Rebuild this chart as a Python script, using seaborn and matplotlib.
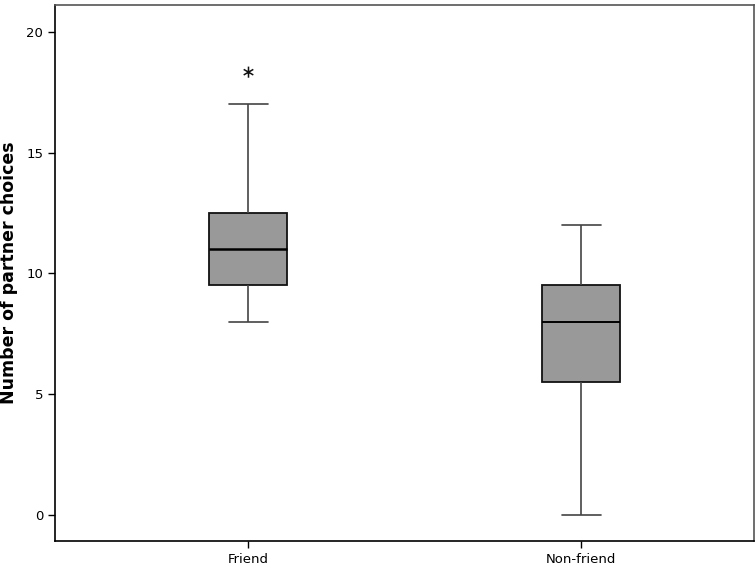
import pandas as pd
import matplotlib
matplotlib.use("Agg")
import matplotlib.pyplot as plt
from matplotlib.path import Path
import seaborn as sns

# raw counts chosen so the quartiles match the reference boxes
groups = ["Friend", "Non-friend"]
friend_choices = [8, 9, 9, 10, 10, 11, 12, 12, 13, 17, 18]
nonfriend_choices = [0, 4, 5, 6, 7, 8, 9, 9, 10, 11, 12]
y_ticks = [0, 5, 10, 15, 20]

Data = pd.DataFrame({
    "group": [groups[0]] * len(friend_choices) + [groups[1]] * len(nonfriend_choices),
    "choices": friend_choices + nonfriend_choices,
})

# SPSS style asterisk, sitting a little above the value
c = 1.5
star = Path([(0, c - 1), (0, c + 1),
             (-0.866, c - 0.5), (0.866, c + 0.5),
             (-0.866, c + 0.5), (0.866, c - 0.5)],
            [Path.MOVETO, Path.LINETO] * 3)

sns.set_style("white")
plt.rcParams["font.family"] = ["DejaVu Sans"]

fig = plt.figure(figsize=(7.55, 5.70), dpi=100)
ax = fig.add_axes([0.073, 0.051, 0.926, 0.940])

sns.boxplot(data=Data, x="group", y="choices", order=groups, ax=ax,
            width=0.235, whis=1.5, color="#999999", saturation=1,
            linecolor="black", linewidth=1.3,
            boxprops=dict(facecolor="#999999", edgecolor="#111111"),
            whiskerprops=dict(color="#444444", linewidth=1.2),
            capprops=dict(color="#444444", linewidth=1.2),
            medianprops=dict(color="black", linewidth=1.8),
            flierprops=dict(marker=star, markersize=20, color="black",
                            markerfacecolor="none", markeredgecolor="#111111",
                            markeredgewidth=1.1))

# second median drawn a bit thinner, as in the original
for ln in ax.lines:
    y = ln.get_ydata()
    if len(y) == 2 and y[0] == y[1] == 8 and ln.get_linewidth() > 1.5:
        ln.set_linewidth(1.4)

ax.set_xlim(-0.58, 1.52)
ax.set_ylim(-1.07, 21.1)
ax.set_yticks(y_ticks)
ax.set_xlabel("")
ax.set_ylabel("Number of partner choices", fontsize=12.5, fontweight="bold",
              labelpad=6, color="black")
ax.tick_params(axis="both", direction="out", length=5, width=1, color="black",
               labelsize=9.5, labelcolor="black", left=True, bottom=True)

for s in ["left", "bottom"]:
    ax.spines[s].set_color("black")
    ax.spines[s].set_linewidth(1.2)
for s in ["top", "right"]:
    ax.spines[s].set_color("#555555")
    ax.spines[s].set_linewidth(1.2)

fig.savefig("out.png", dpi=100)
